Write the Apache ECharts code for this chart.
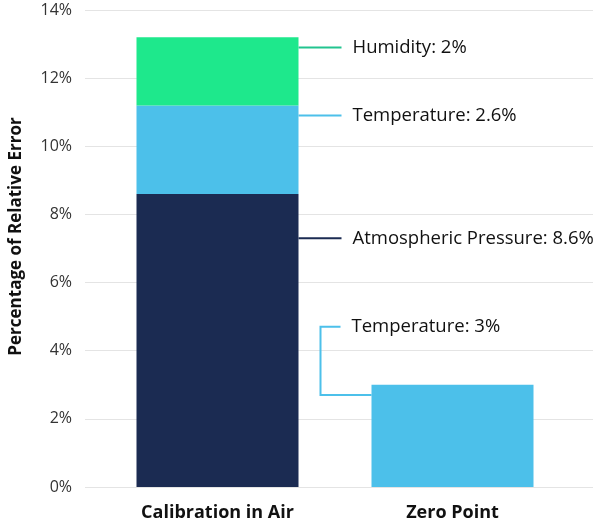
<!DOCTYPE html>
<html>
<head>
<meta charset="utf-8">
<script src="https://cdn.jsdelivr.net/npm/echarts@6/dist/echarts.min.js"></script>
<style>
  html, body { margin: 0; padding: 0; background: #fff; }
  #chart { width: 600px; height: 526px; }
</style>
</head>
<body>
<div id="chart"></div>
<script>
// data
const categories = ['Calibration in Air', 'Zero Point']
const pressure = [8.6, 0]
const temperature = [2.6, 3]
const humidity = [2, 0]
const yMax = 14
const yStep = 2

const NAVY = '#1b2b52'
const BLUE = '#4cc0ea'
const GREEN = '#1ee88c'
const FONT = '"Open Sans"'

let chart = echarts.init(document.getElementById('chart'))
let barW = 162

let option = {
	animation: false,
	grid: [
		{ left: 83, right: 7, top: 10, bottom: 39 },
		{ left: 100, right: 30, top: 10, bottom: 39 }
	],
	xAxis: [
		{ gridIndex: 0, type: 'value', show: false },
		{
			gridIndex: 1,
			type: 'category',
			data: categories,
			axisLine: { show: false },
			axisTick: { show: false },
			axisLabel: { margin: 17, color: '#111', fontSize: 18, fontWeight: 'bold', fontFamily: FONT }
		}
	],
	yAxis: [
		{
			gridIndex: 0,
			type: 'value',
			min: 0, max: yMax, interval: yStep,
			name: 'Percentage of Relative Error',
			nameLocation: 'middle',
			nameGap: 60,
			nameTextStyle: { color: '#111', fontSize: 17, fontWeight: 'bold', fontFamily: FONT, padding: [0, 0, 0, 24] },
			axisLabel: { formatter: '{value}%', margin: 13, color: '#333', fontSize: 16, fontFamily: FONT },
			axisLine: { show: false },
			axisTick: { show: false },
			splitLine: { lineStyle: { color: '#e4e4e4', width: 1 } }
		},
		{ gridIndex: 1, type: 'value', min: 0, max: yMax, show: false }
	],
	series: [
		{ name: 'Atmospheric Pressure', type: 'bar', stack: 'err', xAxisIndex: 1, yAxisIndex: 1, barWidth: barW, data: pressure, itemStyle: { color: NAVY } },
		{ name: 'Temperature', type: 'bar', stack: 'err', xAxisIndex: 1, yAxisIndex: 1, barWidth: barW, data: temperature, itemStyle: { color: BLUE } },
		{ name: 'Humidity', type: 'bar', stack: 'err', xAxisIndex: 1, yAxisIndex: 1, barWidth: barW, data: humidity, itemStyle: { color: GREEN } }
	]
}
chart.setOption(option)

// annotations - placed with the axes' own scale
function px(cat, val) {
	return chart.convertToPixel({ xAxisIndex: 1, yAxisIndex: 1 }, [cat, val])
}
let textStyle = { fill: '#111', font: '500 18.5px ' + FONT, verticalAlign: 'middle' }
let g = []
function note(x1, y, color, text) {
	g.push({ type: 'line', shape: { x1: x1, y1: y, x2: x1 + 43, y2: y }, style: { stroke: color, lineWidth: 2 } })
	g.push({ type: 'text', x: x1 + 54, y: y, style: Object.assign({ text: text }, textStyle) })
}
let c0 = categories[0]
let edge = px(c0, 0)[0] + barW / 2
let top1 = pressure[0], top2 = top1 + temperature[0], top3 = top2 + humidity[0]
note(edge, px(c0, top3 - 0.3)[1], '#22c48f', 'Humidity: ' + humidity[0] + '%')
note(edge, px(c0, top2 - 0.3)[1], BLUE, 'Temperature: ' + temperature[0] + '%')
note(edge, px(c0, top1 - 1.3)[1], NAVY, 'Atmospheric Pressure: ' + pressure[0] + '%')

// elbow for the zero point bar
let c1 = categories[1]
let left1 = px(c1, 0)[0] - barW / 2
let yLow = px(c1, temperature[1] - 0.3)[1]
let yHigh = px(c1, temperature[1] + 1.7)[1]
let xv = left1 - 51
g.push({ type: 'polyline', shape: { points: [[left1, yLow], [xv, yLow], [xv, yHigh], [xv + 20, yHigh]] }, style: { stroke: BLUE, lineWidth: 2, fill: null } })
g.push({ type: 'text', x: xv + 31, y: yHigh, style: Object.assign({ text: 'Temperature: ' + temperature[1] + '%' }, textStyle) })

chart.setOption({ graphic: g })
</script>
</body>
</html>
